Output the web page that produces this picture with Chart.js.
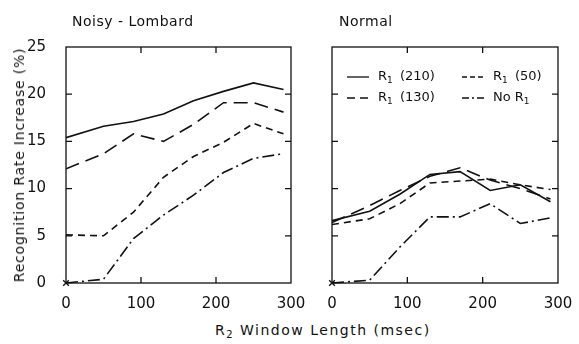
<!DOCTYPE html>
<html>
<head>
<meta charset="utf-8">
<script src="https://cdn.jsdelivr.net/npm/chart.js@4.4.1/dist/chart.umd.min.js"></script>
<style>
	body { margin: 0; background: #fff; }
	#wrap { position: relative; width: 579px; height: 344px; overflow: hidden; font-family: "DejaVu Sans", sans-serif; color: #111; }
	canvas { position: absolute; top: 0; }
	#cLeft { left: 0; }
	#cRight { left: 300px; }
	.lbl { position: absolute; font-size: 14px; letter-spacing: 0.5px; white-space: nowrap; }
	sub { font-size: 10px; vertical-align: -3px; }
	#ytitle { position: absolute; left: 19px; top: 165px; font-size: 14px; letter-spacing: 0.8px; white-space: nowrap;
		transform: translate(-50%, -50%) rotate(-90deg); }
</style>
</head>
<body>
<div id="wrap">
	<canvas id="cLeft" width="320" height="320"></canvas>
	<canvas id="cRight" width="279" height="320"></canvas>
	<div class="lbl" style="left:72px; top:13px;">Noisy - Lombard</div>
	<div class="lbl" style="left:339px; top:13px;">Normal</div>
	<div class="lbl" style="left:215px; top:322px; letter-spacing:1.5px;">R<sub>2</sub> Window Length (msec)</div>
	<div id="ytitle">Recognition Rate Increase (%)</div>
</div>
<script>
// R2 window length (msec)
const WINDOW_MS = [0, 50, 90, 130, 170, 210, 250, 290];

// Noisy-Lombard panel
const LOMBARD_R1_210 = [15.4, 16.6, 17.1, 17.9, 19.3, 20.3, 21.2, 20.5];
const LOMBARD_R1_130 = [12.1, 13.7, 15.8, 15.0, 16.8, 19.1, 19.1, 18.1];
const LOMBARD_R1_50 = [5.1, 5.0, 7.5, 11.2, 13.4, 14.9, 16.9, 15.8];
const LOMBARD_NO_R1 = [0, 0.4, 4.7, 7.2, 9.3, 11.7, 13.2, 13.7];

// Normal panel
const NORMAL_R1_210 = [6.6, 7.6, 9.4, 11.5, 11.8, 9.8, 10.4, 8.6];
const NORMAL_R1_130 = [6.4, 8.2, 9.8, 11.3, 12.2, 10.9, 10.0, 8.9];
const NORMAL_R1_50 = [6.2, 6.8, 8.4, 10.6, 10.8, 11.0, 10.4, 9.9];
const NORMAL_NO_R1 = [0, 0.3, 3.8, 7.0, 7.0, 8.4, 6.3, 6.9];

const X_TICKS = [0, 100, 200, 300];
const Y_TICKS = [0, 5, 10, 15, 20, 25];

const INK = '#111';
const FONT = 'DejaVu Sans';

function pts(values) {
	return values.map((v, i) => ({ x: WINDOW_MS[i], y: v }));
}

function makeDatasets(r210, r130, r50, none) {
	return [
		{ label: 'R1 (210)', data: pts(r210), borderDash: [], legendDash: [] },
		{ label: 'R1 (130)', data: pts(r130), borderDash: [14, 7], legendDash: [8, 5] },
		{ label: 'R1 (50)', data: pts(r50), borderDash: [7, 5], legendDash: [5, 3] },
		{
			label: 'No R1', data: pts(none), borderDash: [12, 4, 2, 4], legendDash: [7, 3, 2, 3],
			pointRadius: ctx => ctx.dataIndex === 0 ? 4 : 0,
			pointStyle: 'crossRot',
			pointBorderWidth: 1.3,
			clip: false
		}
	].map(d => Object.assign({
		borderColor: INK,
		backgroundColor: INK,
		borderWidth: 1.6,
		pointRadius: 0,
		tension: 0,
		fill: false
	}, d));
}

// frame around the plot and inward tick marks on all four sides
const framePlugin = {
	id: 'frame',
	afterDraw(chart) {
		const { ctx, chartArea: a, scales } = chart;
		ctx.save();
		ctx.strokeStyle = INK;
		ctx.lineWidth = 1.3;
		ctx.setLineDash([]);
		ctx.strokeRect(a.left, a.top, a.right - a.left, a.bottom - a.top);
		const len = 6;
		ctx.beginPath();
		[100, 200].forEach(v => {
			const x = scales.x.getPixelForValue(v);
			ctx.moveTo(x, a.bottom); ctx.lineTo(x, a.bottom - len);
			ctx.moveTo(x, a.top); ctx.lineTo(x, a.top + len);
		});
		[5, 10, 15, 20].forEach(v => {
			const y = scales.y.getPixelForValue(v);
			ctx.moveTo(a.left, y); ctx.lineTo(a.left + len, y);
			ctx.moveTo(a.right, y); ctx.lineTo(a.right - len, y);
		});
		ctx.stroke();
		ctx.restore();
	}
};

// legend drawn inside the Normal panel, two columns
const insideLegend = {
	id: 'insideLegend',
	afterDraw(chart, args, opts) {
		if (!opts.show) return;
		const { ctx, chartArea: a } = chart;
		const ds = chart.data.datasets;
		const order = [0, 2, 1, 3];
		const cols = [a.left + 15, a.left + 130];
		const rows = [a.top + 30, a.top + 51];
		ctx.save();
		ctx.fillStyle = INK;
		ctx.strokeStyle = INK;
		ctx.lineWidth = 1.3;
		ctx.textBaseline = 'middle';
		order.forEach((di, k) => {
			const d = ds[di];
			const x = cols[k % 2];
			const y = rows[Math.floor(k / 2)];
			ctx.setLineDash(d.legendDash);
			ctx.beginPath();
			ctx.moveTo(x, y); ctx.lineTo(x + 22, y);
			ctx.stroke();
			ctx.setLineDash([]);
			let tx = x + 31;
			const parts = d.label.split('R1');
			ctx.font = '13px "' + FONT + '"';
			ctx.fillText(parts[0], tx, y);
			tx += ctx.measureText(parts[0]).width;
			ctx.fillText('R', tx, y);
			tx += ctx.measureText('R').width;
			ctx.font = '9px "' + FONT + '"';
			ctx.fillText('1', tx, y + 4);
			tx += ctx.measureText('1').width + 3;
			ctx.font = '13px "' + FONT + '"';
			ctx.fillText(parts[1], tx, y);
		});
		ctx.restore();
	}
};

function makeChart(id, datasets, isLeft) {
	return new Chart(document.getElementById(id), {
		type: 'line',
		data: { datasets: datasets },
		plugins: [framePlugin, insideLegend],
		options: {
			responsive: false,
			animation: false,
			layout: {
				padding: isLeft
					? { left: 6, right: 29, top: 47, bottom: 10 }
					: { left: 32, right: 21, top: 47, bottom: 10 }
			},
			plugins: {
				legend: { display: false },
				tooltip: { enabled: false },
				insideLegend: { show: !isLeft }
			},
			scales: {
				x: {
					type: 'linear',
					min: 0,
					max: 300,
					afterBuildTicks: s => { s.ticks = X_TICKS.map(v => ({ value: v })); },
					afterFit: s => { s.height = 27; },
					ticks: {
						color: INK,
						padding: 4,
						maxRotation: 0,
						font: { family: FONT, size: 15 }
					},
					grid: { display: false },
					border: { display: false }
				},
				y: {
					display: isLeft,
					min: 0,
					max: 25,
					afterBuildTicks: s => { s.ticks = Y_TICKS.map(v => ({ value: v })); },
					afterFit: s => { if (isLeft) s.width = 60; },
					ticks: {
						color: INK,
						padding: 12,
						font: { family: FONT, size: 15 }
					},
					grid: { display: false },
					border: { display: false }
				}
			}
		}
	});
}

makeChart('cLeft', makeDatasets(LOMBARD_R1_210, LOMBARD_R1_130, LOMBARD_R1_50, LOMBARD_NO_R1), true);
makeChart('cRight', makeDatasets(NORMAL_R1_210, NORMAL_R1_130, NORMAL_R1_50, NORMAL_NO_R1), false);
</script>
</body>
</html>
